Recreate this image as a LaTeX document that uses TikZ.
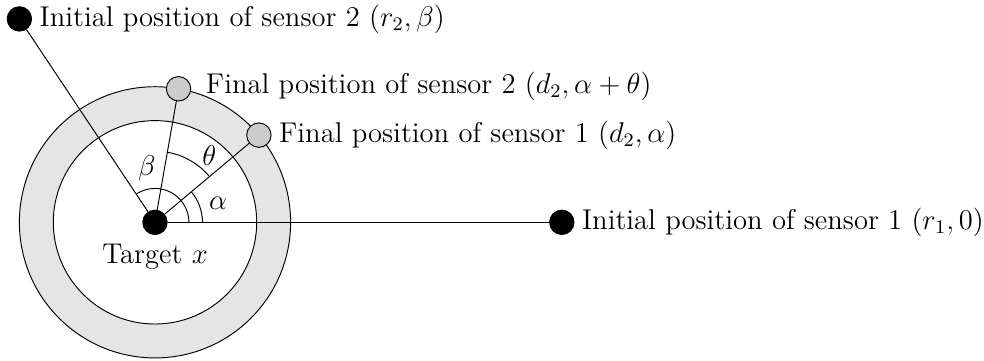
\documentclass[12pt,tikz,border=0pt]{standalone}
\usepackage{amsmath}
\usepackage{amssymb}
\definecolor{ringgray}{gray}{0.9}
\definecolor{movedgray}{gray}{0.8}

\begin{document}
\begin{tikzpicture}
        \useasboundingbox (-2.286,-2.031) rectangle (12.227,3.279);
        \def\rin{1.5}
        \def\rout{2}
        \def\alp{40}
        \def\thet{40}
        \def\bet{123.69}
        \tikzset{dot/.style={circle,draw,inner sep=0pt,minimum size=0.36cm},
                 fixed/.style={dot,fill=black},
                 moved/.style={dot,fill=movedgray}}

        % Ring of final distance d_2
        \fill[ringgray,even odd rule] (0,0) circle (\rout) (0,0) circle (\rin);
        \draw (0,0) circle (\rout);
        \draw (0,0) circle (\rin);

        % Angles
        \draw (0.5,0) arc (0:\bet:0.5);
        \draw (0.7,0) arc (0:\alp:0.7);
        \draw (\alp:1.05) arc (\alp:{\alp+\thet}:1.05);
        \node[] (alpha) at (0.93,0.28) {$\alpha$};
        \node[] (beta) at (-0.12,0.8) {$\beta$};
        \node[] (theta) at (0.8,0.99) {$\theta$};

        % Sensors
        \node[fixed] (target) at (0,0) {};
        \node[] (targetlabel) at (0,-0.51) {Target $x$};
        \node[fixed,label={[label distance=-1pt]right:{Initial position of sensor 1 $(r_1,0)$}}] (init1) at (6,0) {};
        \node[fixed,label={[label distance=-1pt]right:{Initial position of sensor 2 $(r_2,\beta)$}}] (init2) at (-2,3) {};
        \node[moved,label={[label distance=2pt,yshift=1pt]right:{Final position of sensor 2 $(d_2,\alpha+\theta)$}}] (final2) at ({\alp+\thet}:\rout) {};
        \node[moved,label={[label distance=-1pt]right:{Final position of sensor 1 $(d_2,\alpha)$}}] (final1) at (\alp:\rout) {};

        \draw (target) -- (init1);
        \draw (target) -- (init2);
        \draw (target) -- (final1);
        \draw (target) -- (final2);
    \end{tikzpicture}
\end{document}
